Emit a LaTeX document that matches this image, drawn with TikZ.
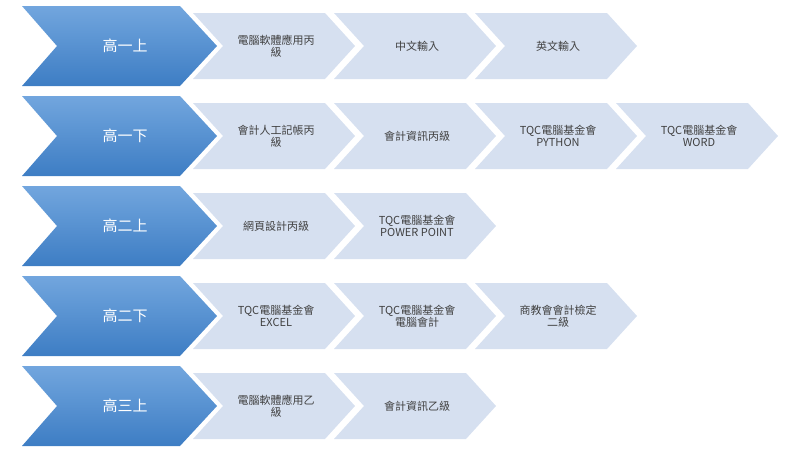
\documentclass[tikz,border=0pt]{standalone}
\usepackage{fontspec}
\setmainfont{Carlito}
\newfontfamily\cjk{Noto Sans CJK TC}
\definecolor{bigtop}{HTML}{72A6DE}
\definecolor{bigbot}{HTML}{3D7DC4}
\definecolor{smallfill}{HTML}{D6E0F0}
\definecolor{smalltext}{HTML}{404040}
\tikzset{
  bigtext/.style={text=white, font=\cjk\fontsize{15}{17}\selectfont},
  smalltext/.style={text=smalltext, align=center, font=\cjk\fontsize{11}{12}\selectfont}
}
% big chevron: #1 top y, #2 name, #3 label
\newcommand\bigchev[3]{
  \shade[top color=bigtop, bottom color=bigbot]
    (22,#1) -- (180,#1) -- (217,#1+40) -- (180,#1+80) -- (22,#1+80) -- (57,#1+40) -- cycle;
  \node (#2) [bigtext] at (125,#1+40) {#3};
}
% small chevron: #1 left x, #2 top y, #3 name, #4 label
\newcommand\smallchev[4]{
  \fill[smallfill] (#1,#2+7) -- (#1+132,#2+7) -- (#1+162,#2+40) -- (#1+132,#2+73)
    -- (#1,#2+73) -- (#1+30,#2+40) -- cycle;
  \node (#3) [smalltext] at (#1+83,#2+40) {#4};
}
\begin{document}
\begin{tikzpicture}[x=1pt,y=-1pt]
  \useasboundingbox (0,0) rectangle (800,450);

  \smallchev{193}{6}{a1}{電腦軟體應用丙\\級}
  \smallchev{334}{6}{a2}{中文輸入}
  \smallchev{475}{6}{a3}{英文輸入}
  \bigchev{6}{r1}{高一上}

  \smallchev{193}{96}{b1}{會計人工記帳丙\\級}
  \smallchev{334}{96}{b2}{會計資訊丙級}
  \smallchev{475}{96}{b3}{TQC電腦基金會\\PYTHON}
  \smallchev{616}{96}{b4}{TQC電腦基金會\\WORD}
  \bigchev{96}{r2}{高一下}

  \smallchev{193}{186}{c1}{網頁設計丙級}
  \smallchev{334}{186}{c2}{TQC電腦基金會\\POWER POINT}
  \bigchev{186}{r3}{高二上}

  \smallchev{193}{276}{d1}{TQC電腦基金會\\EXCEL}
  \smallchev{334}{276}{d2}{TQC電腦基金會\\電腦會計}
  \smallchev{475}{276}{d3}{商教會會計檢定\\二級}
  \bigchev{276}{r4}{高二下}

  \smallchev{193}{366}{e1}{電腦軟體應用乙\\級}
  \smallchev{334}{366}{e2}{會計資訊乙級}
  \bigchev{366}{r5}{高三上}
\end{tikzpicture}
\end{document}
